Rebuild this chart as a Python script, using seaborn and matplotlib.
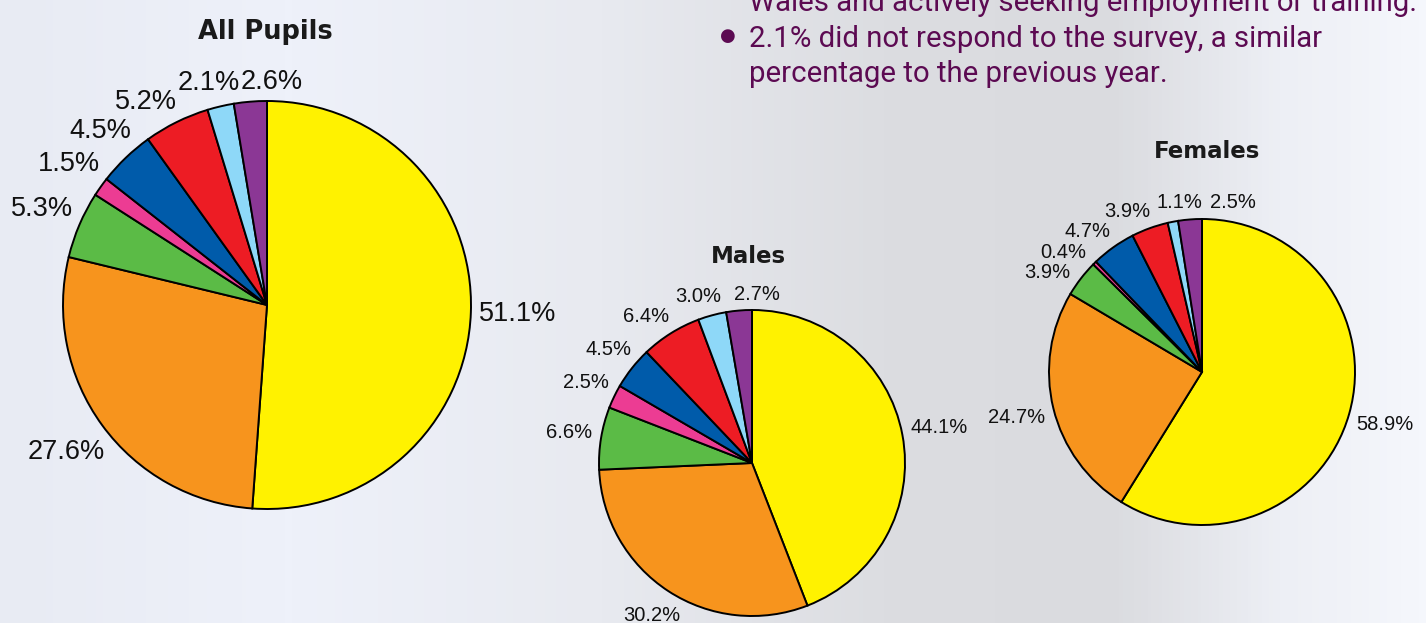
import matplotlib
matplotlib.use("Agg")
import matplotlib.pyplot as plt
from matplotlib.colors import LinearSegmentedColormap
import numpy as np
import seaborn as sns

sns.set_style("white")
plt.rcParams["font.family"] = ["Liberation Sans", "DejaVu Sans"]

# slice order, clockwise from 12 o'clock
colours = ["#FFF200", "#F7941D", "#5BBB46", "#EC3C93",
           "#005BAA", "#ED1C24", "#8ED8F8", "#8B3795"]

all_pupils = [51.1, 27.6, 5.3, 1.5, 4.5, 5.2, 2.1, 2.6]
males = [44.1, 30.2, 6.6, 2.5, 4.5, 6.4, 3.0, 2.7]
females = [58.9, 24.7, 3.9, 0.4, 4.7, 3.9, 1.1, 2.5]

titles = ["All Pupils", "Males", "Females"]

note_lines = [
    "Wales and actively seeking employment or training.",
    "2.1% did not respond to the survey, a similar",
    "percentage to the previous year.",
]

W, H = 1426, 623
fig = plt.figure(figsize=(W / 100, H / 100), dpi=100)

# soft background
bg = fig.add_axes([0, 0, 1, 1])
bg_cmap = LinearSegmentedColormap.from_list(
    "bg", [(0.0, "#e8ebf3"), (0.2, "#eef1fa"), (0.42, "#e8eaf0"),
           (0.62, "#dcdde1"), (0.78, "#dadbdf"), (0.9, "#edeff5"),
           (1.0, "#f5f7fc")])
bg.imshow(np.linspace(0, 1, 400)[None, :], aspect="auto", cmap=bg_cmap,
          extent=[0, 1, 0, 1])
bg.set_axis_off()


def place_labels(wedges, texts, r_px, gap=8, pad_x=4, pad_y=1.05):
    # labels sit just outside the rim, then neighbours get nudged apart
    fig.canvas.draw()
    rend = fig.canvas.get_renderer()
    boxes = []
    for t in texts:
        bb = t.get_window_extent(rend)
        boxes.append((bb.width / 2, bb.height * 0.38,
                      bb.width + pad_x, bb.height * pad_y))
    ang = np.deg2rad([(w.theta1 + w.theta2) / 2 for w in wedges])
    order = np.argsort(ang)

    def pos(i):
        hw, hh = boxes[i][0], boxes[i][1]
        d = r_px + gap + abs(np.cos(ang[i])) * hw + abs(np.sin(ang[i])) * hh
        return d * np.cos(ang[i]), d * np.sin(ang[i])

    for _ in range(800):
        moved = False
        for a, b in zip(order[:-1], order[1:]):
            xa, ya = pos(a)
            xb, yb = pos(b)
            if (abs(xa - xb) < (boxes[a][2] + boxes[b][2]) / 2
                    and abs(ya - yb) < (boxes[a][3] + boxes[b][3]) / 2):
                ang[a] -= np.deg2rad(0.25)
                ang[b] += np.deg2rad(0.25)
                moved = True
        if not moved:
            break
    for i, t in enumerate(texts):
        x, y = pos(i)
        t.set_position((x / r_px, y / r_px))


def draw_pie(values, cx, cy, r, title, label_size, title_size, title_x,
             title_y, pad_x):
    ax = fig.add_axes([(cx - r) / W, (H - cy - r) / H, 2 * r / W, 2 * r / H])
    labels = [f"{v:.1f}%" for v in values]
    wedges, texts = ax.pie(values, colors=colours, startangle=90,
                           counterclock=False, labels=labels,
                           labeldistance=1.2, radius=1,
                           wedgeprops=dict(edgecolor="black", linewidth=1.4),
                           textprops=dict(fontsize=label_size, color="#111111"))
    for t in texts:
        t.set_ha("center")
        t.set_va("center")
    ax.set_xlim(-1, 1)
    ax.set_ylim(-1, 1)
    ax.set_aspect("equal")
    ax.set_axis_off()
    place_labels(wedges, texts, r, pad_x=pad_x)
    fig.text(title_x / W, 1 - title_y / H, title, ha="center", va="baseline",
             fontsize=title_size, family=["DejaVu Sans"],
             fontweight="bold", color="#1a1a1a")


draw_pie(all_pupils, 267, 305, 204, titles[0], 19.5, 18.5, 265, 39, 0)
draw_pie(males, 752, 463, 153, titles[1], 14.5, 16.5, 748, 263, 12)
draw_pie(females, 1202, 372, 153, titles[2], 14.5, 16.5, 1207, 158, 6)

note_colour = "#5c0a52"
note_font = ["Roboto", "Liberation Sans", "DejaVu Sans"]
for line, base in zip(note_lines, [11, 47, 82]):
    fig.text(749 / W, 1 - base / H, line, ha="left", va="baseline",
             fontsize=21.2, color=note_colour, family=note_font)
fig.text(728 / W, 1 - 36 / H, "\u25CF", ha="center", va="center",
         fontsize=13, color=note_colour, family=["DejaVu Sans"])

fig.savefig("out.png", dpi=100)
